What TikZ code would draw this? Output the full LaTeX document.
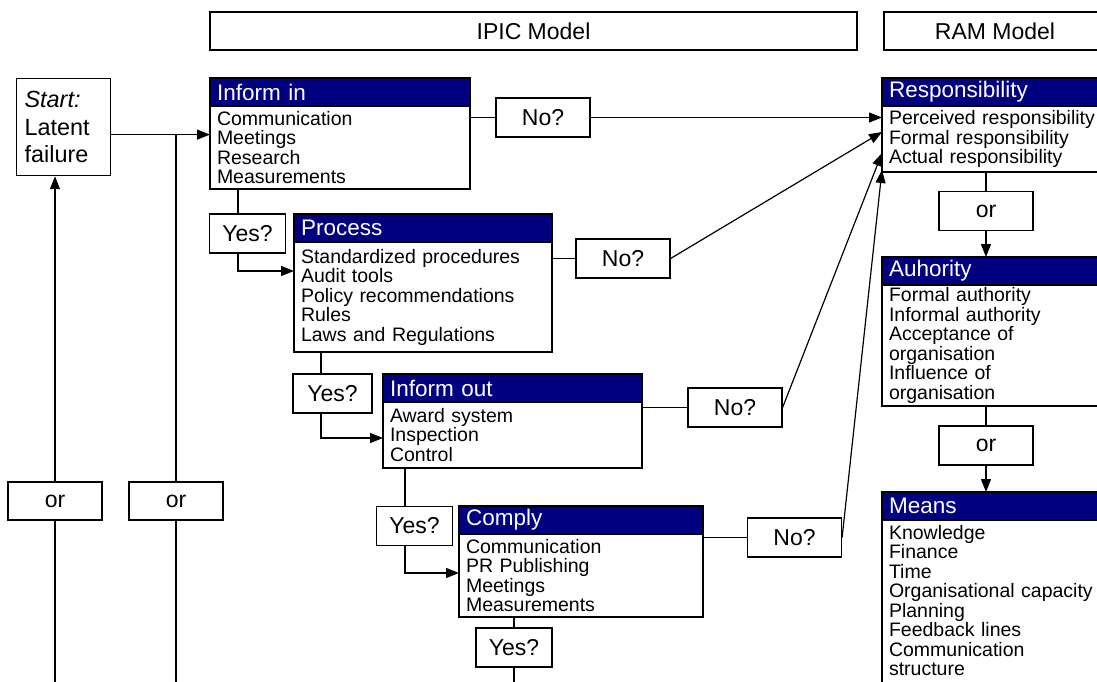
\documentclass[tikz,border=0pt]{standalone}
\usepackage{fontspec}
\setmainfont{Liberation Sans}
\usepackage{tikz}
\usetikzlibrary{arrows.meta, positioning}
\definecolor{headblue}{RGB}{0, 0, 128}
\newcommand{\bodyfont}{\fontsize{19.5}{19.5}\selectfont}
\newcommand{\headfont}{\fontsize{22.5}{24}\selectfont}
\newcommand{\labelfont}{\fontsize{23}{24}\selectfont}

\begin{document}
\begin{tikzpicture}[
    x=1pt, y=-1pt, line width=1.2pt,
    title/.style={draw, minimum height=38pt, inner sep=0pt, font=\labelfont},
    head/.style={draw, fill=headblue, text=white, anchor=north west, outer sep=0pt,
                 minimum height=28pt, inner xsep=7pt, inner ysep=0pt, text width=#1,
                 align=left, font=\headfont},
    list/.style={draw, fill=white, outer sep=0pt, inner xsep=7pt, inner ysep=0pt,
                 text width=#1, align=left, font=\bodyfont},
    answer/.style={draw, fill=white, minimum width=#1, minimum height=39pt,
                   inner sep=0pt, font=\labelfont},
    answer/.default=94pt,
    arrow/.style={-{Triangle[length=13pt, width=10pt]}}
]
    \useasboundingbox (0,0) rectangle (1097,682);
    \clip (0,0) rectangle (1097,682);

    \node[title, minimum width=647pt] (ipic) at (533.5,31) {IPIC Model};
    \node[title, minimum width=222pt] (ram) at (995,31) {RAM Model};

    \node[draw, anchor=north west, minimum width=94pt, minimum height=97pt, text width=78pt,
          inner xsep=8pt, align=left, font=\fontsize{23.4}{27.5}\selectfont]
          (start) at (16,78) {\textit{Start:}\\Latent\\failure};

    % IPIC steps
    \node[head=246pt] (informin) at (210,78) {Inform in};
    \node[list=246pt, minimum height=83pt, below=0pt of informin] (informinlist)
        {Communication\\Meetings\\Research\\Measurements};
    \node[head=244pt] (process) at (294,214) {Process};
    \node[list=244pt, minimum height=110pt, below=0pt of process] (processlist)
        {Standardized procedures\\Audit tools\\Policy recommendations\\Rules\\Laws and Regulations};
    \node[head=245pt] (informout) at (383,374) {Inform out};
    \node[list=245pt, minimum height=66pt, below=0pt of informout] (informoutlist)
        {Award system\\Inspection\\Control};
    \node[head=230pt] (comply) at (459,506) {Comply};
    \node[list=230pt, minimum height=83pt, below=0pt of comply] (complylist)
        {Communication\\PR Publishing\\Meetings\\Measurements};

    % RAM steps
    \node[head=212pt] (resp) at (882,78) {Responsibility};
    \node[list=212pt, minimum height=66pt, below=0pt of resp] (resplist)
        {Perceived responsibility\\Formal responsibility\\Actual responsibility};
    \node[head=212pt] (auth) at (882,257) {Auhority};
    \node[list=212pt, minimum height=121pt, below=0pt of auth] (authlist)
        {Formal authority\\Informal authority\\Acceptance of\\organisation\\Influence of\\organisation};
    \node[head=212pt] (means) at (882,492) {Means};
    \node[list=212pt, inner ysep=5pt, text depth=190pt, below=0pt of means] (meanslist)
        {Knowledge\\Finance\\Time\\Organisational capacity\\Planning\\Feedback lines\\Communication\\structure};

    \node[answer=76pt] (yes1) at (247.5,233.5) {Yes?};
    \node[answer=79pt] (yes2) at (332.5,393.5) {Yes?};
    \node[answer=76pt] (yes3) at (414.5,526) {Yes?};
    \node[answer=76pt] (yes4) at (514,647.5) {Yes?};
    \node[answer] (no1) at (543,117.5) {No?};
    \node[answer] (no2) at (623,258.5) {No?};
    \node[answer] (no3) at (735,407.5) {No?};
    \node[answer] (no4) at (794.5,537.5) {No?};
    \node[answer, minimum height=38pt] (orleft) at (55,501) {or};
    \node[answer, minimum height=38pt] (ormid) at (176,501) {or};
    \node[answer] (orresp) at (986,211) {or};
    \node[answer] (orauth) at (986,445.5) {or};

    \coordinate (startout) at ([yshift=-7.5pt]start.east);
    \coordinate (bottomedge) at (0,690);

    \draw[arrow] (startout) -- (startout -| informinlist.west);
    \draw (ormid.north) -- (ormid.north |- startout);
    \draw (ormid.south) -- (ormid.south |- bottomedge);
    \draw[arrow] (orleft.north) -- (orleft.north |- start.south);
    \draw (orleft.south) -- (orleft.south |- bottomedge);

    \draw ([xshift=-9.5pt]yes1.north) -- ([xshift=-9.5pt]yes1.north |- informinlist.south);
    \draw[arrow] ([xshift=-9.5pt]yes1.south) |- ([yshift=-57pt]process.north west);
    \draw ([xshift=-11.5pt]yes2.north) -- ([xshift=-11.5pt]yes2.north |- processlist.south);
    \draw[arrow] ([xshift=-11.5pt]yes2.south) |- ([yshift=-64pt]informout.north west);
    \draw ([xshift=-9.5pt]yes3.north) -- ([xshift=-9.5pt]yes3.north |- informoutlist.south);
    \draw[arrow] ([xshift=-9.5pt]yes3.south) |- ([yshift=-67pt]comply.north west);
    \draw (yes4.north) -- (yes4.north |- complylist.south);
    \draw (yes4.south) -- (yes4.south |- bottomedge);

    \draw (no1.west) -- (no1.west -| informinlist.east);
    \draw[arrow] (no1.east) -- (no1.east -| resplist.west);
    \draw (no2.west) -- (no2.west -| processlist.east);
    \draw[arrow] (no2.east) -- ([yshift=7pt]resplist.west);
    \draw (no3.west) -- (no3.west -| informoutlist.east);
    \draw[arrow] (no3.east) -- ([yshift=-14pt]resplist.west);
    \draw (no4.west) -- (no4.west -| complylist.east);
    \draw[arrow] (no4.east) -- ([yshift=2pt]resplist.south west);

    \draw (orresp.north) -- (orresp.north |- resplist.south);
    \draw[arrow] (orresp.south) -- (orresp.south |- auth.north);
    \draw (orauth.north) -- (orauth.north |- authlist.south);
    \draw[arrow] (orauth.south) -- (orauth.south |- means.north);
\end{tikzpicture}
\end{document}
